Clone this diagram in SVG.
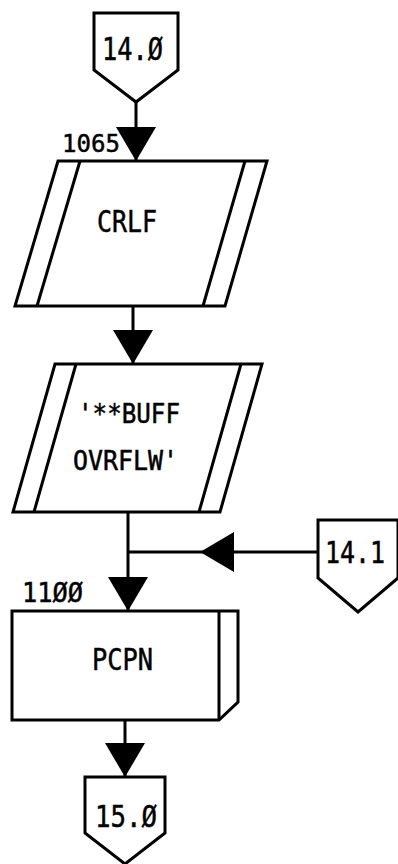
<svg xmlns="http://www.w3.org/2000/svg" width="398" height="864" viewBox="0 0 398 864">
<defs>
<style>
.shape{fill:#fff;stroke:#000;stroke-width:3;stroke-linejoin:miter}
.ln{fill:none;stroke:#000;stroke-width:3}
.conn{fill:none;stroke:#000;stroke-width:3}
.t{font-family:"DejaVu Sans Mono","Liberation Mono",monospace;fill:#000;stroke:#000;stroke-width:0.5}
</style>
<marker id="arr" viewBox="0 0 34 40" refX="34" refY="20" markerWidth="34" markerHeight="40" markerUnits="userSpaceOnUse" orient="auto">
<path d="M0,0 L34,20 L0,40 Z" fill="#000"/>
</marker>
</defs>
<rect width="398" height="864" fill="#fff"/>
<g id="connectors">
<path class="conn" d="M136,102 V161" marker-end="url(#arr)"/>
<path class="conn" d="M133,306 V364" marker-end="url(#arr)"/>
<path class="conn" d="M128,512 V611" marker-end="url(#arr)"/>
<path class="conn" d="M320,552 H200" marker-end="url(#arr)"/>
<path class="conn" d="M200,552 H128"/>
<path class="conn" d="M125,720 V777" marker-end="url(#arr)"/>
</g>
<g id="node-14-0">
<path class="shape" d="M94,13 H178 V70 L136,102 L94,70 Z"/>
<text class="t" x="102" y="60" font-size="32" textLength="61" lengthAdjust="spacingAndGlyphs">14.Ø</text>
</g>
<g id="node-crlf">
<path class="shape" d="M58,161 H267 L225,306 H15 Z"/>
<path class="ln" d="M80,161 L37,306 M245,161 L203,306"/>
<text class="t" x="62" y="152" font-size="25" textLength="58" lengthAdjust="spacingAndGlyphs">1065</text>
<text class="t" x="97" y="232" font-size="30" textLength="60" lengthAdjust="spacingAndGlyphs">CRLF</text>
</g>
<g id="node-buff">
<path class="shape" d="M55,364 H262 L220,512 H13 Z"/>
<path class="ln" d="M76,364 L34,512 M241,364 L199,512"/>
<text class="t" x="78" y="423" font-size="26" textLength="102" lengthAdjust="spacingAndGlyphs">'**BUFF</text>
<text class="t" x="73" y="470" font-size="26" textLength="105" lengthAdjust="spacingAndGlyphs">OVRFLW'</text>
</g>
<g id="node-pcpn">
<path class="shape" d="M12,611 H238 V702 L219,720 H12 Z"/>
<path class="ln" d="M219,611 V720"/>
<text class="t" x="22" y="602" font-size="27" textLength="61" lengthAdjust="spacingAndGlyphs">11ØØ</text>
<text class="t" x="92" y="670" font-size="30" textLength="61" lengthAdjust="spacingAndGlyphs">PCPN</text>
</g>
<g id="node-14-1">
<path class="shape" d="M318,520 H398 V578 L358,612 L318,578 Z"/>
<text class="t" x="325" y="563" font-size="31" textLength="60" lengthAdjust="spacingAndGlyphs">14.1</text>
</g>
<g id="node-15-0">
<path class="shape" d="M85,777 H165 V833 L125,864 L85,833 Z"/>
<text class="t" x="95" y="827" font-size="30" textLength="62" lengthAdjust="spacingAndGlyphs">15.Ø</text>
</g>
</svg>
